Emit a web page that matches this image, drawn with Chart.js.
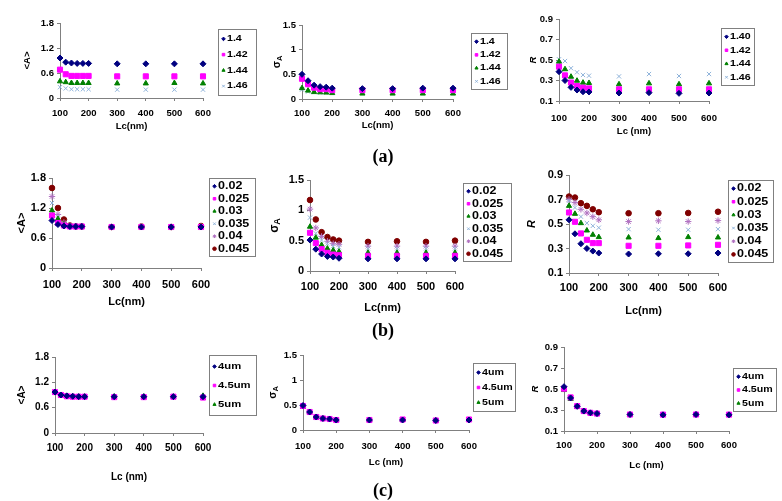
<!DOCTYPE html>
<html>
<head>
<meta charset="utf-8">
<script src="https://cdn.jsdelivr.net/npm/chart.js@4.4.1/dist/chart.umd.min.js"></script>
<style>
body { margin: 0; background: #fff; width: 782px; height: 501px; position: relative; overflow: hidden; }
canvas { position: absolute; }
.cap { position: absolute; font: bold 18px "Liberation Serif", "Times New Roman", serif; transform: translate(-50%, -50%); color: #000; }
</style>
</head>
<body>
<script>
'use strict';

// x values (Lc, nm) shared by every panel
const lc = [100, 120, 140, 160, 180, 200, 300, 400, 500, 600];

const namesA = ['1.4', '1.42', '1.44', '1.46'];
const namesA3 = ['1.40', '1.42', '1.44', '1.46'];
const namesB = ['0.02', '0.025', '0.03', '0.035', '0.04', '0.045'];
const namesC = ['4um', '4.5um', '5um'];

// row (a)
const meanA_a = [
    [0.96, 0.86, 0.84, 0.83, 0.83, 0.83, 0.82, 0.82, 0.82, 0.82],
    [0.68, 0.57, 0.53, 0.53, 0.53, 0.53, 0.52, 0.52, 0.52, 0.52],
    [0.40, 0.38, 0.36, 0.36, 0.36, 0.36, 0.35, 0.35, 0.36, 0.35],
    [0.26, 0.23, 0.21, 0.21, 0.21, 0.21, 0.20, 0.20, 0.20, 0.20],
];
const sigA_a = [
    [0.50, 0.37, 0.28, 0.25, 0.24, 0.22, 0.21, 0.21, 0.22, 0.22],
    [0.41, 0.30, 0.23, 0.20, 0.20, 0.18, 0.18, 0.18, 0.18, 0.18],
    [0.22, 0.17, 0.14, 0.135, 0.13, 0.12, 0.11, 0.11, 0.11, 0.11],
    [0.19, 0.15, 0.14, 0.13, 0.13, 0.13, 0.13, 0.13, 0.13, 0.13],
];
const rA_a = [
    [0.386, 0.30, 0.233, 0.207, 0.19, 0.188, 0.178, 0.181, 0.175, 0.178],
    [0.435, 0.35, 0.28, 0.246, 0.23, 0.223, 0.214, 0.214, 0.214, 0.214],
    [0.484, 0.41, 0.337, 0.298, 0.279, 0.276, 0.263, 0.272, 0.263, 0.272],
    [0.507, 0.49, 0.42, 0.38, 0.354, 0.347, 0.34, 0.363, 0.344, 0.363],
];

// row (b)
const meanA_b = [
    [0.95, 0.87, 0.84, 0.83, 0.83, 0.83, 0.82, 0.82, 0.82, 0.82],
    [1.05, 0.90, 0.85, 0.83, 0.83, 0.83, 0.82, 0.82, 0.82, 0.82],
    [1.15, 0.98, 0.87, 0.84, 0.83, 0.83, 0.82, 0.82, 0.82, 0.82],
    [1.30, 1.03, 0.89, 0.84, 0.83, 0.83, 0.82, 0.82, 0.82, 0.83],
    [1.43, 1.07, 0.91, 0.84, 0.83, 0.83, 0.82, 0.83, 0.82, 0.83],
    [1.60, 1.20, 0.97, 0.85, 0.83, 0.83, 0.82, 0.83, 0.82, 0.84],
];
const sigA_b = [
    [0.51, 0.36, 0.28, 0.24, 0.23, 0.21, 0.20, 0.20, 0.20, 0.20],
    [0.63, 0.46, 0.36, 0.30, 0.27, 0.26, 0.25, 0.25, 0.25, 0.25],
    [0.73, 0.55, 0.43, 0.37, 0.34, 0.32, 0.30, 0.30, 0.30, 0.30],
    [0.88, 0.62, 0.51, 0.45, 0.41, 0.39, 0.37, 0.37, 0.37, 0.37],
    [1.02, 0.71, 0.57, 0.49, 0.45, 0.44, 0.41, 0.41, 0.41, 0.41],
    [1.17, 0.85, 0.64, 0.56, 0.52, 0.50, 0.48, 0.49, 0.48, 0.50],
];
const rA_b = [
    [0.534, 0.42, 0.339, 0.30, 0.279, 0.263, 0.255, 0.257, 0.257, 0.263],
    [0.594, 0.518, 0.423, 0.371, 0.344, 0.344, 0.322, 0.322, 0.325, 0.33],
    [0.648, 0.583, 0.507, 0.447, 0.412, 0.393, 0.39, 0.385, 0.393, 0.39],
    [0.69, 0.634, 0.56, 0.507, 0.485, 0.47, 0.458, 0.453, 0.453, 0.458],
    [0.70, 0.675, 0.62, 0.59, 0.56, 0.534, 0.52, 0.526, 0.52, 0.528],
    [0.724, 0.716, 0.67, 0.648, 0.62, 0.596, 0.588, 0.588, 0.59, 0.60],
];

// row (c)
const meanA_c = [
    [0.97, 0.90, 0.88, 0.87, 0.86, 0.86, 0.86, 0.86, 0.86, 0.86],
    [0.97, 0.90, 0.87, 0.86, 0.86, 0.86, 0.85, 0.85, 0.86, 0.84],
    [0.96, 0.89, 0.87, 0.86, 0.86, 0.86, 0.86, 0.86, 0.86, 0.88],
];
const sigA_c = [
    [0.49, 0.36, 0.26, 0.23, 0.22, 0.20, 0.20, 0.20, 0.19, 0.20],
    [0.48, 0.36, 0.26, 0.23, 0.22, 0.20, 0.20, 0.21, 0.19, 0.21],
    [0.46, 0.35, 0.25, 0.23, 0.22, 0.20, 0.20, 0.20, 0.19, 0.20],
];
const rA_c = [
    [0.522, 0.415, 0.335, 0.29, 0.273, 0.266, 0.257, 0.254, 0.257, 0.254],
    [0.503, 0.42, 0.337, 0.29, 0.273, 0.266, 0.257, 0.256, 0.257, 0.256],
    [0.49, 0.405, 0.33, 0.287, 0.27, 0.264, 0.255, 0.252, 0.255, 0.252],
];

const marks = [
    {c: '#000080', s: 'rectRot', r: 3},
    {c: '#FF00FF', s: 'rect', r: 3.6},
    {c: '#008000', s: 'triangle', r: 3},
    {c: '#8FB3DA', s: 'crossRot', r: 3},
    {c: '#B070C0', s: 'star', r: 3.2},
    {c: '#800000', s: 'circle', r: 2.8},
];

const FONT = '"Liberation Sans", Arial, sans-serif';
const GREY = '#808080';

const panels = [
    {box: [0, 0, 260, 140], plot: [60, 203, 23, 98], tickY: 113, yr: [0, 1.8, 0.6], yt: 'mean', ytX: 27, xt: 'Lc(nm)', xtY: 126, leg: [218, 29, 39, 67], names: namesA, vals: meanA_a, fs: 9.5},
    {box: [260, 0, 260, 140], plot: [302, 453, 25, 99], tickY: 113, yr: [0, 1.5, 0.5], yt: 'sigma', ytX: 277, xt: 'Lc(nm)', xtY: 125, leg: [471, 33, 37, 57], names: namesA, vals: sigA_a, fs: 9.5},
    {box: [520, 0, 262, 140], plot: [559, 709, 19, 101], tickY: 118, yr: [0.1, 0.9, 0.2], yt: 'R', ytX: 533, xt: 'Lc (nm)', xtY: 131, leg: [721, 28, 34, 58], names: namesA3, vals: rA_a, fs: 9.5},
    {box: [0, 140, 260, 190], plot: [52, 201, 178, 268], tickY: 285, yr: [0, 1.8, 0.6], yt: 'mean', ytX: 22, xt: 'Lc(nm)', xtY: 302, leg: [209, 178, 47, 79], names: namesB, vals: meanA_b, fs: 11},
    {box: [260, 140, 260, 190], plot: [310, 455, 180, 271], tickY: 287, yr: [0, 1.5, 0.5], yt: 'sigma', ytX: 275, xt: 'Lc(nm)', xtY: 308, leg: [463, 183, 49, 79], names: namesB, vals: sigA_b, fs: 11},
    {box: [520, 140, 262, 190], plot: [569, 718, 175, 273], tickY: 288, yr: [0.1, 0.9, 0.2], yt: 'R', ytX: 532, xt: 'Lc(nm)', xtY: 311, leg: [728, 180, 46, 83], names: namesB, vals: rA_b, fs: 11},
    {box: [0, 330, 260, 171], plot: [55, 203, 357, 433], tickY: 448, yr: [0, 1.8, 0.6], yt: 'mean', ytX: 22, xt: 'Lc (nm)', xtY: 477, leg: [209, 355, 48, 61], names: namesC, vals: meanA_c, fs: 10},
    {box: [260, 330, 260, 171], plot: [303, 469, 355, 430], tickY: 446, yr: [0, 1.5, 0.5], yt: 'sigma', ytX: 273, xt: 'Lc (nm)', xtY: 462, leg: [473, 363, 43, 49], names: namesC, vals: sigA_c, fs: 9.5},
    {box: [520, 330, 262, 171], plot: [564, 729, 347, 431], tickY: 445, yr: [0.1, 0.9, 0.2], yt: 'R', ytX: 535, xt: 'Lc (nm)', xtY: 465, leg: [733, 368, 44, 44], names: namesC, vals: rA_c, fs: 9.5},
];

const captions = [['(a)', 383, 156], ['(b)', 383, 330], ['(c)', 383, 490]];


// y title (with subscript for sigma) and boxed legend
const decoPlugin = {
    id: 'deco',
    afterDraw(chart, args, o) {
	const ctx = chart.ctx;
	const ca = chart.chartArea;
	const fs = o.fs;

	ctx.save();
	ctx.fillStyle = '#000';
	ctx.translate(o.ytX, (ca.top + ca.bottom) / 2);
	ctx.rotate(-Math.PI / 2);
	ctx.textBaseline = 'middle';
	if (o.yt === 'sigma') {
	    ctx.font = `bold ${fs + 1}px ${FONT}`;
	    const w1 = ctx.measureText('\u03c3').width;
	    ctx.font = `bold ${fs - 2}px ${FONT}`;
	    const w2 = ctx.measureText('A').width;
	    const x0 = -(w1 + w2) / 2;
	    ctx.font = `bold ${fs + 1}px ${FONT}`;
	    ctx.fillText('\u03c3', x0, 0);
	    ctx.font = `bold ${fs - 2}px ${FONT}`;
	    ctx.fillText('A', x0 + w1, 3);
	} else {
	    ctx.textAlign = 'center';
	    ctx.font = (o.yt === 'R' ? 'italic ' : '') + `bold ${fs}px ${FONT}`;
	    ctx.fillText(o.yt === 'R' ? 'R' : '<A>', 0, 0);
	}
	ctx.restore();

	const [lx, ly, lw, lh] = o.leg;
	ctx.save();
	ctx.fillStyle = '#fff';
	ctx.fillRect(lx, ly, lw, lh);
	ctx.strokeStyle = GREY;
	ctx.lineWidth = 1;
	ctx.strokeRect(lx + 0.5, ly + 0.5, lw - 1, lh - 1);
	const sets = chart.data.datasets;
	const rowH = (lh - 4) / sets.length;
	sets.forEach((ds, i) => {
	    const cy = ly + 2 + rowH * (i + 0.5);
	    ctx.fillStyle = ds.backgroundColor;
	    ctx.strokeStyle = ds.borderColor;
	    ctx.lineWidth = 1;
	    Chart.helpers.drawPoint(ctx, {pointStyle: ds.pointStyle, radius: 1.8, rotation: 0, borderWidth: 0.8}, lx + 5.5, cy);
	    ctx.save();
	    ctx.translate(lx + 9, cy);
	    ctx.scale(1.25, 1);
	    ctx.fillStyle = '#000';
	    ctx.font = `bold ${fs - 1}px ${FONT}`;
	    ctx.textBaseline = 'middle';
	    ctx.fillText(ds.label, 0, 0);
	    ctx.restore();
	});
	ctx.restore();
    },
};


function makePanel(p) {
    const [bx, by, bw, bh] = p.box;
    const [pl, pr, pt, pb] = p.plot;
    const fs = p.fs;
    const xfs = fs;
    const lineH = xfs * 1.2;
    const padBottom = Math.max(by + bh - (p.xtY + lineH / 2), 0);
    const tickLen = 3;

    const cv = document.createElement('canvas');
    cv.width = bw;
    cv.height = bh;
    cv.style.left = bx + 'px';
    cv.style.top = by + 'px';
    document.body.appendChild(cv);

    const datasets = p.names.map((name, i) => ({
	label: name,
	data: lc.map((x, j) => ({x: x, y: p.vals[i][j]})),
	pointStyle: marks[i].s,
	pointRadius: marks[i].r,
	backgroundColor: marks[i].c,
	borderColor: marks[i].c,
	borderWidth: 1,
	clip: false,
    }));

    const tickFont = {family: FONT, size: fs, weight: 'bold'};

    new Chart(cv, {
	type: 'scatter',
	data: {datasets: datasets},
	plugins: [decoPlugin],
	options: {
	    responsive: false,
	    animation: false,
	    layout: {padding: {left: 0, top: pt - by, right: bx + bw - pr, bottom: padBottom}},
	    plugins: {
		legend: {display: false},
		tooltip: {enabled: false},
		deco: {
		    ytX: p.ytX - bx,
		    yt: p.yt,
		    fs: fs,
		    leg: [p.leg[0] - bx, p.leg[1] - by, p.leg[2], p.leg[3]],
		},
	    },
	    scales: {
		x: {
		    type: 'linear',
		    min: 100,
		    max: 600,
		    ticks: {
			stepSize: 100,
			color: '#000',
			font: tickFont,
			maxRotation: 0,
			padding: Math.max(p.tickY - pb - tickLen - fs * 0.6, 0),
		    },
		    grid: {drawOnChartArea: false, drawTicks: true, tickLength: tickLen, color: GREY},
		    border: {color: GREY, width: 1},
		    title: {display: true, text: p.xt, color: '#000', font: {family: FONT, size: xfs, weight: 'bold'}, padding: 0},
		    afterFit: s => { s.height = p.xtY + lineH / 2 - pb; },
		},
		y: {
		    type: 'linear',
		    min: p.yr[0],
		    max: p.yr[1],
		    ticks: {
			stepSize: p.yr[2],
			color: '#000',
			font: tickFont,
			padding: 3,
			callback: v => String(Math.round(v * 10) / 10),
		    },
		    grid: {drawOnChartArea: false, drawTicks: true, tickLength: tickLen, color: GREY},
		    border: {color: GREY, width: 1},
		    afterFit: s => { s.width = pl - bx; },
		},
	    },
	},
    });
}

panels.forEach(makePanel);

captions.forEach(([t, x, y]) => {
    const d = document.createElement('div');
    d.className = 'cap';
    d.textContent = t;
    d.style.left = x + 'px';
    d.style.top = y + 'px';
    document.body.appendChild(d);
});
</script>
</body>
</html>
